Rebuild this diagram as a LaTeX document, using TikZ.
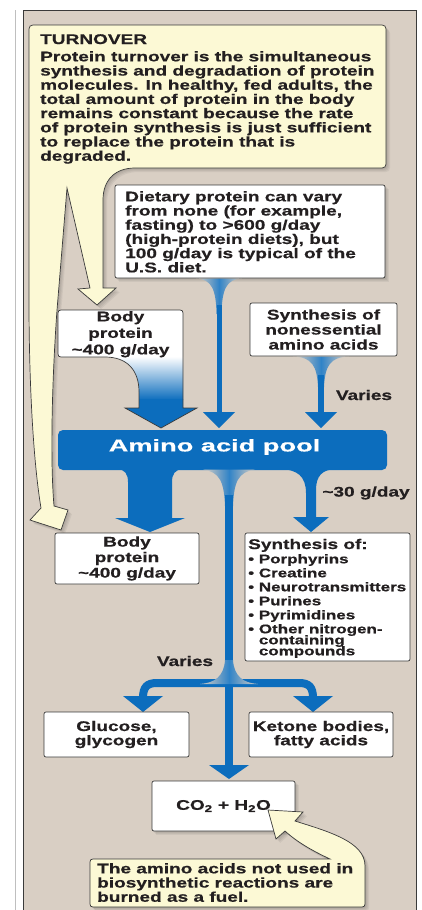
\documentclass[tikz,border=0pt]{standalone}
\usepackage{fontspec}
\setmainfont{Liberation Sans}[FakeStretch=1.36, BoldFeatures={FakeBold=0.6}]
\newfontfamily\poolfont{Liberation Sans}[FakeStretch=1.6, BoldFeatures={FakeBold=0.6}]
\definecolor{bg}{HTML}{D9CFC4}
\definecolor{yel}{HTML}{FCF9D5}
\definecolor{bluec}{HTML}{0C6DBD}
\definecolor{edge}{HTML}{3A3A3A}
\definecolor{txt}{HTML}{231F20}
\def\turnpath{(33,25) -- (382,25) .. controls (384.5,25) and (386,26.5) .. (386,29) -- (386,164) .. controls (386,166.5) and (384.5,168) .. (382,168) -- (135,168) .. controls (115,168) and (103,180) .. (103,200) -- (103,288) -- (116,288) -- (97,305) -- (78,289) -- (90,288) -- (67,188) -- (57,310) .. controls (52,380) and (50,460) .. (54,506) -- (68,510) -- (61,530) -- (30,520) -- (41,508) .. controls (33,460) and (29,380) .. (29,300) -- (29,29) .. controls (29,26.5) and (30.5,25) .. (33,25) -- cycle}
\def\fuelpath{(93,859) -- (330,859) .. controls (315,852) and (298,843) .. (285,831) -- (276,839) -- (268,810) -- (303,812) -- (295,821) .. controls (330,832) and (365,842) .. (365,866) -- (365,904) .. controls (365,906) and (364,907) .. (362,907) -- (93,907) .. controls (91,907) and (90,906) .. (90,904) -- (90,862) .. controls (90,860) and (91,859) .. (93,859) -- cycle}
\def\bppath{(61,310) -- (180,310) .. controls (182,310) and (183,311) .. (183,313) -- (183,408) -- (197,408) -- (161,428) -- (125,408) -- (139,408) -- (139,392) .. controls (139,370) and (127,357) .. (105,357) -- (61,357) .. controls (59,357) and (58,356) .. (58,354) -- (58,313) .. controls (58,311) and (59,310) .. (61,310) -- cycle}
\newcommand\softshade[1]{\foreach \s in {1,2,3,4}{\fill[black,opacity=0.05,shift={(\s,\s)}] #1;}}
\begin{document}
\begin{tikzpicture}[x=1pt,y=-1pt,
  every node/.style={text=txt, font=\fontsize{14}{14.2}\selectfont\bfseries, inner sep=0pt},
  wbox/.style={draw=edge, fill=white, line width=0.7pt, rounded corners=2pt, align=center},
  outl/.style={draw=edge, line width=0.7pt},
  flare/.style={left color=bg, right color=bg, middle color=bluec!85!white},
  lbl/.style={anchor=center}]
\useasboundingbox (0,0) rectangle (422,910);
\fill[white] (0,0) rectangle (422,910);
\draw[black!25, line width=0.8pt] (15,10) -- (15,910);
\filldraw[fill=bg, draw=edge, line width=0.8pt] (23,10) rectangle (416,911);

% turnover callout
\softshade{\turnpath}
\filldraw[fill=yel, outl] \turnpath;
\node[anchor=base west] (ttl) at (40,44) {TURNOVER};
\node[anchor=north west, align=left] (ttxt) at (40,51) {Protein turnover is the simultaneous\\synthesis and degradation of protein\\molecules. In healthy, fed adults, the\\total amount of protein in the body\\remains constant because the rate\\of protein synthesis is just sufficient\\to replace the protein that is\\degraded.};

% dietary box
\softshade{(115,185) rectangle (385,278)}
\node[wbox, minimum width=270pt, minimum height=93pt] (diet) at (250,231.5) {};
\node[anchor=north west, align=left] (diett) at (125,191) {Dietary protein can vary\\from none (for example,\\fasting) to >600 g/day\\(high-protein diets), but\\100 g/day is typical of the\\U.S. diet.};

% dietary arrow
\shade[flare] (196,278.5) .. controls (212,279) and (216,290) .. (216.5,314) -- (221.5,314) .. controls (222,290) and (226,279) .. (242,278.5) -- cycle;
\fill[bluec] (216.5,305) rectangle (221.5,413);
\fill[bluec] (203,412) -- (235,412) -- (219,428) -- cycle;

% body protein (top) with gradient arrow
\fill[white] \bppath;
\shade[top color=white, bottom color=bluec] (105,356.5) .. controls (127,357) and (139,370) .. (139,392) -- (139,400) -- (183,400) -- (183,356.5) -- cycle;
\fill[bluec] (139,399) -- (139,408) -- (125,408) -- (161,428) -- (197,408) -- (183,408) -- (183,399) -- cycle;
\draw[outl] \bppath;
\node[anchor=north, align=center, font=\fontsize{14}{16.5}\selectfont\bfseries] (bp1) at (120.5,311) {Body\\protein\\\textasciitilde400 g/day};

% nonessential synthesis
\node[wbox, minimum width=147pt, minimum height=53pt, font=\fontsize{14}{15}\selectfont\bfseries] (nonex) at (323.5,329.5) {Synthesis of\\nonessential\\amino acids};
\shade[flare] (293,356.5) .. controls (312,357) and (317,366) .. (318,387) -- (324,387) .. controls (325,366) and (330,357) .. (349,356.5) -- cycle;
\fill[bluec] (318,375) rectangle (324,413);
\fill[bluec] (305,412) -- (337,412) -- (321,428) -- cycle;
\node[lbl] (v1) at (364,395) {Varies};

% amino acid pool
\node[fill=bluec, rounded corners=5pt, minimum width=329pt, minimum height=40pt] (pool) at (222.5,450) {};
\node[text=white, font=\poolfont\fontsize{17}{20}\selectfont\bfseries] (poolt) at (214.5,447) {Amino acid pool};

% arrows out of pool
\fill[bluec] (117,469) .. controls (125,469.5) and (128,474) .. (128,482) -- (128,518) -- (115,518) -- (150,532) -- (185,518) -- (172,518) -- (172,482) .. controls (172,474) and (175,469.5) .. (183,469) -- cycle;
\fill[bluec] (280,469) .. controls (297,469.5) and (306,476) .. (306,493) -- (306,517) -- (293,517) -- (311,532) -- (329,517) -- (316,517) -- (316,490) .. controls (316,476) and (322,469.5) .. (336,469) -- cycle;
\node[lbl] (g30) at (366,493) {\textasciitilde30 g/day};
\shade[flare] (203,469.5) .. controls (220,472) and (224,482) .. (225,506) -- (233,506) .. controls (234,482) and (238,472) .. (255,469.5) -- cycle;
\fill[bluec] (225,495) rectangle (233,766);
\fill[bluec] (209,765) -- (249,765) -- (229,779) -- cycle;

% lower branches
\draw[bluec, line width=8pt] (229,683) -- (157,683) .. controls (147,683) and (143,687) .. (143,698);
\draw[bluec, line width=8pt] (229,683) -- (299,683) .. controls (309,683) and (313,687) .. (313,698);
\fill[bluec] (123,696) -- (163,696) -- (143,712) -- cycle;
\fill[bluec] (293,696) -- (333,696) -- (313,712) -- cycle;
\shade[flare] (200,684) .. controls (215,683) and (224,676) .. (225,660) -- (233,660) .. controls (234,676) and (243,683) .. (258,684) -- cycle;
\node[lbl] (v2) at (185,661) {Varies};

% body protein (bottom)
\node[wbox, minimum width=144pt, minimum height=51pt, font=\fontsize{14}{15.5}\selectfont\bfseries] (bp2) at (127,558.5) {Body\\protein\\\textasciitilde400 g/day};

% synthesis of
\node[wbox, minimum width=165pt, minimum height=128pt] (synth) at (327.5,597) {};
\node[anchor=base west] (syt) at (248,549) {Synthesis of:};
\node[anchor=north west, align=left, font=\fontsize{12.5}{14}\selectfont\bfseries] (syl) at (248,554) {\textbullet\ Porphyrins\\\textbullet\ Creatine\\\textbullet\ Neurotransmitters\\\textbullet\ Purines\\\textbullet\ Pyrimidines\\\textbullet\ Other nitrogen-\\[-3pt]\hphantom{\textbullet\ }containing\\[-3pt]\hphantom{\textbullet\ }compounds};

% products
\node[wbox, minimum width=145pt, minimum height=45pt] (gluc) at (116.5,734.5) {Glucose,\\glycogen};
\node[wbox, minimum width=144pt, minimum height=45pt] (keto) at (321,734.5) {Ketone bodies,\\fatty acids};
\softshade{(152,781) rectangle (295,831)}
\node[wbox, minimum width=143pt, minimum height=50pt] (co2) at (223.5,806) {CO\textsubscript{2} + H\textsubscript{2}O};

% fuel callout
\softshade{\fuelpath}
\filldraw[fill=yel, outl] \fuelpath;
\node[anchor=north west, align=left] (fuelt) at (97,863) {The amino acids not used in\\biosynthetic reactions are\\burned as a fuel.};
\end{tikzpicture}
\end{document}
